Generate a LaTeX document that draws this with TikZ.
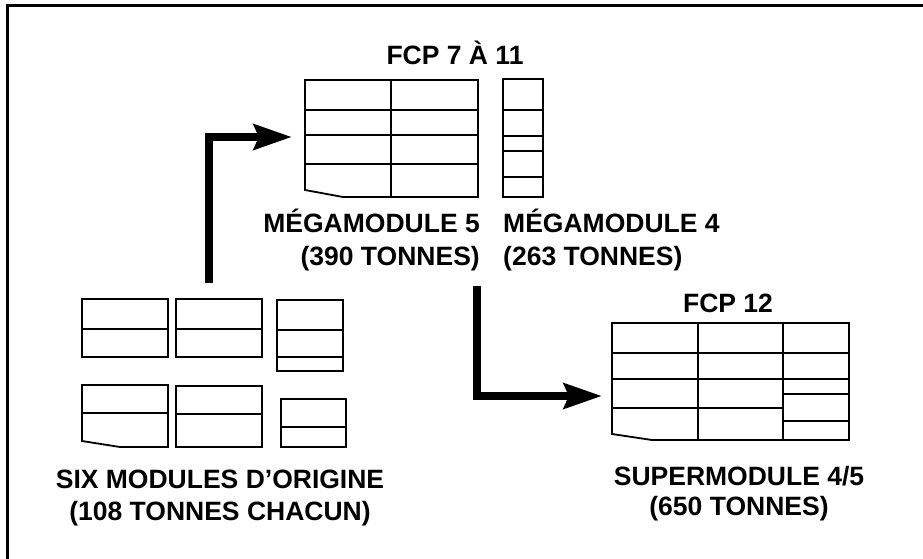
\documentclass[tikz,border=0pt]{standalone}
\usepackage{fontspec}
\setmainfont{Liberation Sans}
\usetikzlibrary{arrows.meta}
\tikzset{
  modbox/.style={draw=black, line width=1.8pt, line join=miter},
  modline/.style={draw=black, line width=1.6pt},
  flow/.style={draw=black, line width=8.5pt, line join=miter,
    -{Stealth[length=38pt,width=25pt,inset=5pt]}},
  lbl/.style={inner sep=0pt, font=\fontsize{26.5}{32}\selectfont\bfseries},
  frame/.style={draw=black, line width=3pt}
}
\begin{document}
\begin{tikzpicture}[x=1pt,y=-1pt]
\useasboundingbox (0,0) rectangle (923,559);
% frame
\draw[frame] (7,559) -- (7,6) -- (923,6);

% Megamodule 5
\draw[modbox] (305,80) -- (478,80) -- (478,197) -- (343,197) -- (305,190) -- cycle;
\draw[modline] (391,80) -- (391,197);
\foreach \y in {110,135,164} \draw[modline] (305,\y) -- (478,\y);

% Megamodule 4
\draw[modbox] (503,79) rectangle (543,197);
\foreach \y in {110,136,151,177} \draw[modline] (503,\y) -- (543,\y);

% Supermodule 4/5
\draw[modbox] (612,323) -- (849,323) -- (849,440) -- (652,440) -- (612,434) -- cycle;
\draw[modline] (698,323) -- (698,440);
\draw[modline] (783,323) -- (783,440);
\foreach \y in {353,379} \draw[modline] (612,\y) -- (849,\y);
\draw[modline] (612,408) -- (783,408);
\foreach \y in {394,421} \draw[modline] (783,\y) -- (849,\y);

% Six original modules
\draw[modbox] (82,299) rectangle (168,357);
\draw[modline] (82,329) -- (168,329);
\draw[modbox] (176,299) rectangle (262,357);
\draw[modline] (176,329) -- (262,329);
\draw[modbox] (277,300) rectangle (343,371);
\foreach \y in {330,357} \draw[modline] (277,\y) -- (343,\y);
\draw[modbox] (82,385) -- (168,385) -- (168,447) -- (120,447) -- (82,441) -- cycle;
\draw[modline] (82,413) -- (168,413);
\draw[modbox] (176,386) rectangle (262,447);
\draw[modline] (176,414) -- (262,414);
\draw[modbox] (281,399) rectangle (346,447);
\draw[modline] (281,427) -- (346,427);

% Labels
\node[lbl, anchor=base] (fcp7) at (455,65) {FCP 7 À 11};
\node[lbl, anchor=base] (fcp12) at (728,312) {FCP 12};
\node[lbl, anchor=base east] (mm5a) at (480,232) {MÉGAMODULE 5};
\node[lbl, anchor=base east] (mm5b) at (480,265) {(390 TONNES)};
\node[lbl, anchor=base west] (mm4a) at (503,232) {MÉGAMODULE 4};
\node[lbl, anchor=base west] (mm4b) at (503,265) {(263 TONNES)};
\node[lbl, anchor=base] (sixa) at (220,488) {SIX MODULES D’ORIGINE};
\node[lbl, anchor=base] (sixb) at (220,520) {(108 TONNES CHACUN)};
\node[lbl, anchor=base] (supa) at (739,485) {SUPERMODULE 4/5};
\node[lbl, anchor=base] (supb) at (739,515) {(650 TONNES)};

% Arrows
\coordinate (a1s) at (209,283);
\coordinate (a1e) at (292,137);
\coordinate (a2s) at (477,286);
\coordinate (a2e) at (602,396);
\draw[flow] (a1s) |- (a1e);
\draw[flow] (a2s) |- (a2e);
\end{tikzpicture}
\end{document}
